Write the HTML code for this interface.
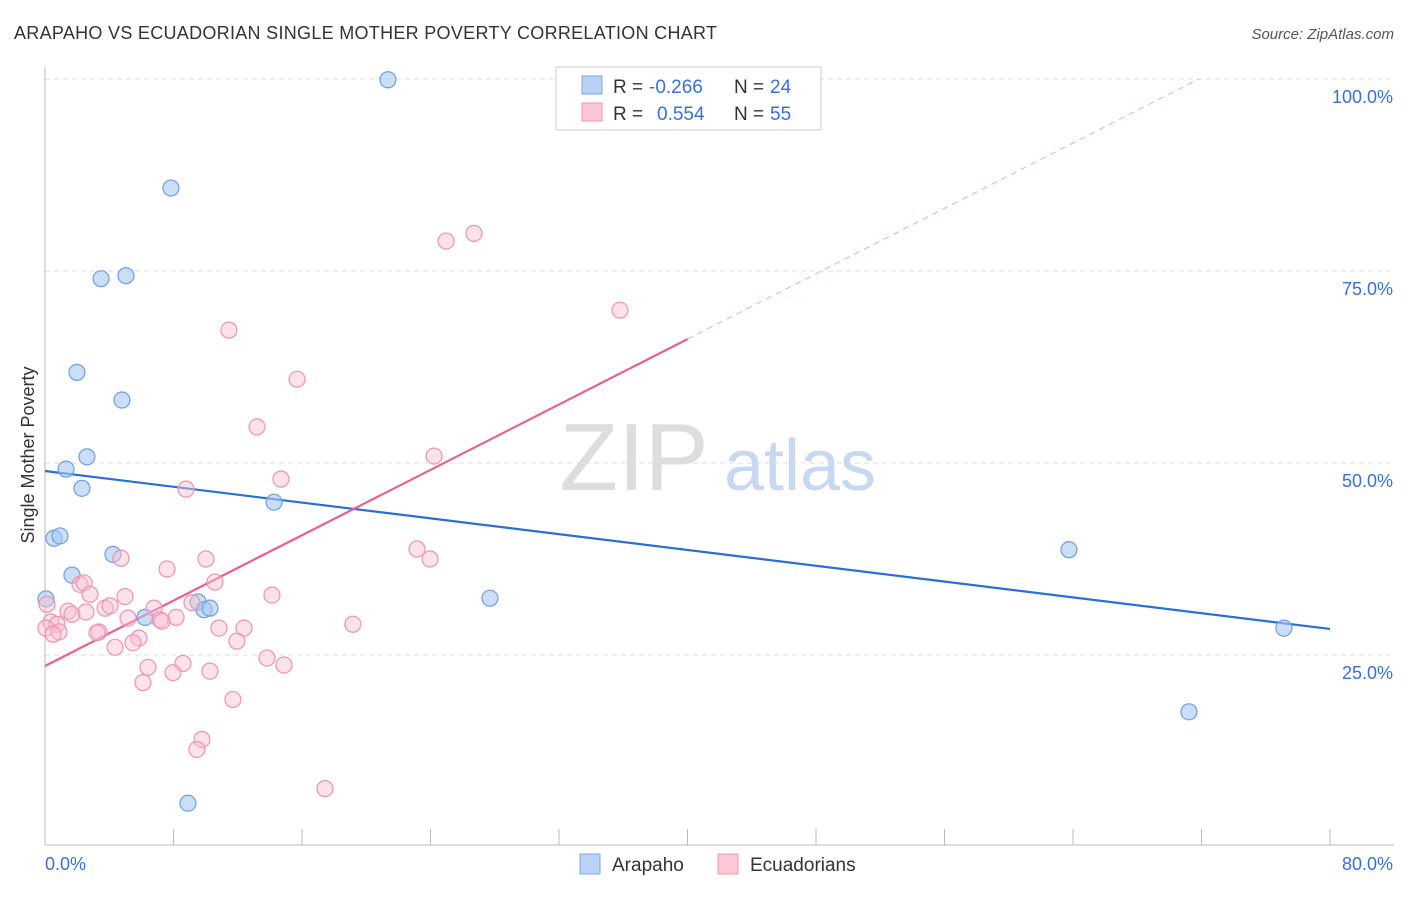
<!DOCTYPE html>
<html><head><meta charset="utf-8"><style>
body{margin:0;background:#fff;font-family:"Liberation Sans",sans-serif;}
svg text{font-family:"Liberation Sans",sans-serif;}
</style></head><body>
<svg id="chart" width="1406" height="892">
<text x="14" y="39" font-size="18" fill="#333" textLength="703">ARAPAHO VS ECUADORIAN SINGLE MOTHER POVERTY CORRELATION CHART</text>
<text x="1394" y="39" font-size="15" fill="#555" text-anchor="end" font-style="italic">Source: ZipAtlas.com</text>
<text x="634" y="490" font-size="96" fill="#ddd" font-family="Liberation Serif" text-anchor="middle">ZIP</text>
<text x="800" y="490" font-size="72" fill="#c8d8f0" text-anchor="middle">atlas</text>
<text transform="translate(34,455) rotate(-90)" font-size="18" fill="#333" text-anchor="middle">Single Mother Poverty</text>
<g id="grid"></g><g id="ticks"></g><g id="lines"></g><g id="pts"></g>
<g>
<rect x="556" y="67" width="265" height="63" fill="#fff" stroke="#ccc"/>
<rect x="582" y="76" width="20" height="18" fill="#b8d3f5" stroke="#7ba7e3"/>
<rect x="582" y="103" width="20" height="18" fill="#fcc8d6" stroke="#eb9ab0"/>
<text x="613" y="93" font-size="19" fill="#333">R =</text>
<text x="649" y="93" font-size="19" fill="#3a6fd8">-0.266</text>
<text x="734" y="93" font-size="19" fill="#333">N =</text>
<text x="770" y="93" font-size="19" fill="#3a6fd8">24</text>
<text x="613" y="120" font-size="19" fill="#333">R =</text>
<text x="657" y="120" font-size="19" fill="#3a6fd8">0.554</text>
<text x="734" y="120" font-size="19" fill="#333">N =</text>
<text x="770" y="120" font-size="19" fill="#3a6fd8">55</text>
</g>
<g>
<rect x="580" y="854" width="20" height="20" fill="#b8d3f5" stroke="#7ba7e3"/>
<text x="612" y="871" font-size="19" fill="#333">Arapaho</text>
<rect x="718" y="854" width="20" height="20" fill="#fcc8d6" stroke="#eb9ab0"/>
<text x="750" y="871" font-size="19" fill="#333">Ecuadorians</text>
</g>
</svg>
<script>
const yTicks=[25,50,75,100];
const yTickLabels=["25.0%","50.0%","75.0%","100.0%"];
const xTicks=[0,8,16,24,32,40,48,56,64,72,80];
const arapahoX=[21.35,7.84,3.49,5.04,1.99,4.79,1.31,2.61,2.3,14.26,0.56,0.93,4.23,1.68,0.06,6.23,9.53,9.9,10.27,27.7,8.9,63.75,77.13,71.22];
const arapahoY=[99.9,85.8,74.0,74.4,61.8,58.2,49.2,50.8,46.7,44.9,40.2,40.5,38.1,35.4,32.3,29.9,31.9,30.9,31.1,32.4,5.7,38.7,28.5,17.6];
const ecuadorX=[26.71,24.97,11.45,35.8,15.69,13.2,24.22,14.69,8.78,23.16,23.97,10.02,4.73,7.6,10.58,2.18,2.43,2.8,4.98,14.13,0.12,1.43,1.68,2.55,3.74,4.05,6.79,5.17,8.16,7.16,7.28,9.15,0.37,0.75,0.06,0.87,0.5,3.36,3.24,5.85,5.48,4.36,10.83,12.39,11.95,19.17,6.41,8.59,10.27,13.82,14.88,6.1,7.97,11.7,9.77,9.46,17.43];
const ecuadorY=[79.9,78.9,67.3,69.9,60.9,54.7,50.9,47.9,46.6,38.8,37.5,37.5,37.6,36.2,34.5,34.2,34.4,32.9,32.6,32.8,31.6,30.7,30.3,30.6,31.1,31.4,31.1,29.8,29.9,29.6,29.4,31.8,29.3,29.0,28.5,28.0,27.7,28.0,27.9,27.2,26.6,26.0,28.5,28.5,26.8,29.0,23.4,23.9,22.9,24.6,23.7,21.4,22.7,19.2,14.0,12.7,7.6];
const trendBlue=[48.96,28.39];
const trendPink=[23.57,1.064];
const NS="http://www.w3.org/2000/svg";
const X=v=>45+v/80*1285, Y=v=>847-v/100*768;
function mk(t,a,p){const e=document.createElementNS(NS,t);for(const k in a)e.setAttribute(k,a[k]);document.getElementById(p).appendChild(e);return e;}
yTicks.forEach((t,i)=>{
 const l=mk('line',{x1:45,x2:1394,y1:Y(t),y2:Y(t),stroke:'#ddd','stroke-dasharray':'5,4'},'grid');
 
 
 const tx=mk('text',{x:1393,y:Y(t)+24,'font-size':18,fill:'#3a6fd8','text-anchor':'end'},'ticks');
 tx.textContent=yTickLabels[i];
 
 
});
mk('line',{x1:45,x2:45,y1:67,y2:845,stroke:'#bbb'},'grid');
mk('line',{x1:45,x2:1394,y1:845,y2:845,stroke:'#bbb'},'grid');
xTicks.forEach(t=>{const l=mk('line',{x1:X(t),x2:X(t),y1:829,y2:845,stroke:'#bbb'},'grid');
 
 });
let a=mk('text',{x:45,y:870,'font-size':18,fill:'#3a6fd8'},'ticks');a.textContent='0.0%';


a=mk('text',{x:1393,y:870,'font-size':18,fill:'#3a6fd8','text-anchor':'end'},'ticks');a.textContent='80.0%';


arapahoX.forEach((x,i)=>{const c=mk('circle',{cx:X(x),cy:Y(arapahoY[i]),r:8,fill:'rgba(168,200,242,0.6)',stroke:'#6f9fe0','stroke-width':1.2},'pts');
 
 });
ecuadorX.forEach((x,i)=>{const c=mk('circle',{cx:X(x),cy:Y(ecuadorY[i]),r:8,fill:'rgba(250,190,208,0.45)',stroke:'#ec94ae','stroke-width':1.2},'pts');
 
 });
let l=mk('line',{x1:X(0),y1:Y(trendBlue[0]),x2:X(80),y2:Y(trendBlue[1]),stroke:'#2a6fd6','stroke-width':2.2},'lines');


const xs=40, xe=(100-trendPink[0])/trendPink[1];
l=mk('line',{x1:X(0),y1:Y(trendPink[0]),x2:X(xs),y2:Y(trendPink[0]+trendPink[1]*xs),stroke:'#e8608f','stroke-width':2.2},'lines');


l=mk('line',{x1:X(xs),y1:Y(trendPink[0]+trendPink[1]*xs),x2:X(xe),y2:Y(100),stroke:'#f0a8c0','stroke-width':1,'stroke-dasharray':'6,5'},'lines');


</script>
</body></html>
